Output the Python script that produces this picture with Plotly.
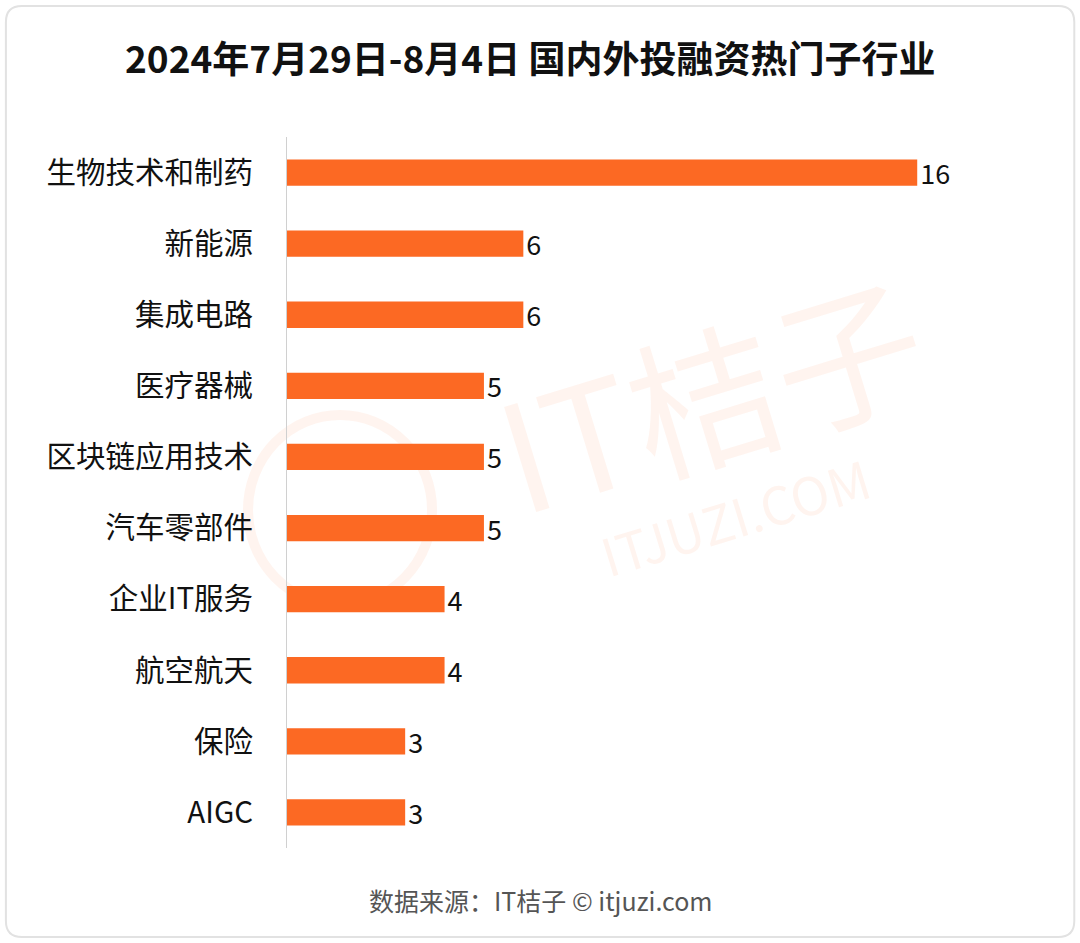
import plotly.graph_objects as go

categories = ["生物技术和制药", "新能源", "集成电路", "医疗器械", "区块链应用技术",
              "汽车零部件", "企业IT服务", "航空航天", "保险", "AIGC"]
values = [16, 6, 6, 5, 5, 5, 4, 4, 3, 3]

title_text = "2024年7月29日-8月4日 国内外投融资热门子行业"
source_text = "数据来源：IT桔子 © itjuzi.com"

FONT = "Noto Sans CJK SC"
BAR = "#FC6923"

fig = go.Figure()
fig.add_trace(go.Bar(
    x=values, y=categories, orientation="h",
    marker=dict(color=BAR, line=dict(width=0)),
    width=0.37,
    text=[str(v) for v in values], textposition="outside",
    textfont=dict(family=FONT, size=27, color="#111111"),
    constraintext="none",
    cliponaxis=False,
))

W, H = 1080, 943
L, R, T, B = 287, 84.25, 137, 95

fig.update_layout(
    width=W, height=H,
    margin=dict(l=L, r=R, t=T, b=B),
    paper_bgcolor="white", plot_bgcolor="rgba(0,0,0,0)",
    showlegend=False,
    font=dict(family=FONT, color="#111111"),
    title=dict(text="<b>" + title_text + "</b>", x=0.491, xanchor="center",
               y=1 - 60 / H, yanchor="middle",
               font=dict(family=FONT, size=37, color="#111111")),
    xaxis=dict(range=[0, 18], visible=False, fixedrange=True),
    yaxis=dict(autorange="reversed", showgrid=False, zeroline=False,
               showline=True, linecolor="#D0D0D0", linewidth=1,
               ticks="", ticklabelstandoff=27, fixedrange=True,
               tickfont=dict(family=FONT, size=29.5, color="#111111")),
    bargap=0.63,
)

def px_x(x):
    return (x - L) / (W - L - R)
def px_y(y):
    return 1 - (y - T) / (H - T - B)

# source footer
fig.add_annotation(text=source_text, xref="paper", yref="paper",
                   x=px_x(540), y=px_y(900),
                   xanchor="center", yanchor="middle", showarrow=False,
                   font=dict(family=FONT, size=25, color="#555555"))

# watermark (faint)
wm = "rgba(252,105,35,0.07)"
fig.add_annotation(text="IT桔子", xref="paper", yref="paper",
                   x=px_x(710), y=px_y(390), showarrow=False, textangle=-17,
                   font=dict(family=FONT, size=150, color=wm))
fig.add_annotation(text="ITJUZI.COM", xref="paper", yref="paper",
                   x=px_x(735), y=px_y(515), showarrow=False, textangle=-17,
                   font=dict(family=FONT, size=52, color=wm))
fig.add_shape(type="circle", xref="paper", yref="paper", layer="below",
              x0=px_x(248), x1=px_x(432), y0=px_y(415), y1=px_y(605),
              line=dict(color="rgba(252,105,35,0.07)", width=10))

# rounded frame
x0, y0, x1, y1, r = 6, 6, 1074, 937, 16
path = (f"M {x0+r},{y0} L {x1-r},{y0} Q {x1},{y0} {x1},{y0+r} "
        f"L {x1},{y1-r} Q {x1},{y1} {x1-r},{y1} L {x0+r},{y1} "
        f"Q {x0},{y1} {x0},{y1-r} L {x0},{y0+r} Q {x0},{y0} {x0+r},{y0} Z")
def conv(path):
    out = []
    for tok in path.split(" "):
        if "," in tok:
            a, b = tok.split(",")
            out.append(f"{px_x(float(a)):.5f},{px_y(float(b)):.5f}")
        else:
            out.append(tok)
    return " ".join(out)
fig.add_shape(type="path", xref="paper", yref="paper", path=conv(path),
              line=dict(color="#E2E2E2", width=2), layer="below")

fig.write_html("out.html", config={"displayModeBar": False},
               post_script="document.body.style.margin='0';document.body.style.padding='0';")
